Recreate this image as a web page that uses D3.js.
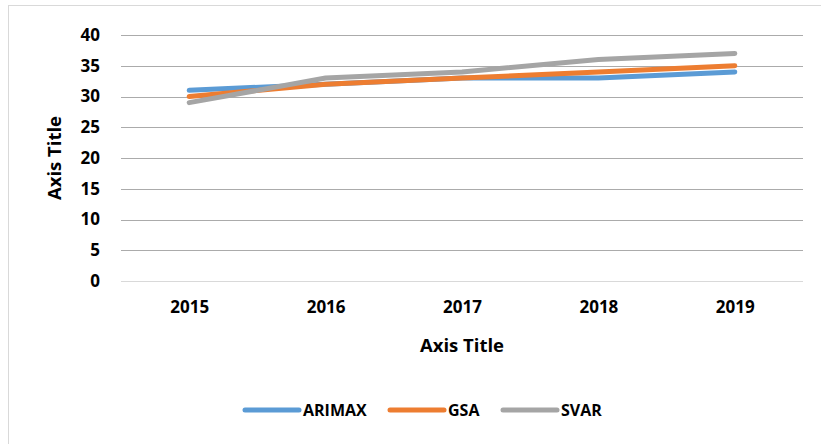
<!DOCTYPE html>
<html lang="en">
<head>
    <title>Forecast comparison</title>
    <script src="https://d3js.org/d3.v7.min.js"></script>
    <style>
        body { margin: 0; background: #fff; }
        text { font-family: "Open Sans", sans-serif; font-weight: bold; fill: #000; }
    </style>
</head>
<body>
<script>
    // Data
    const years   = ["2015", "2016", "2017", "2018", "2019"];
    const arimax  = [31, 32, 33, 33, 34];
    const gsa     = [30, 32, 33, 34, 35];
    const svar    = [29, 33, 34, 36, 37];
    const yTicks  = [0, 5, 10, 15, 20, 25, 30, 35, 40];
    const seriesNames  = ["ARIMAX", "GSA", "SVAR"];
    const seriesColors = ["#5B9BD5", "#ED7D31", "#A5A5A5"];

    const series = [arimax, gsa, svar].map((vals, i) => ({
        name: seriesNames[i],
        color: seriesColors[i],
        values: vals.map((v, j) => ({ year: years[j], value: v }))
    }));

    // Dimensions
    const width = 821, height = 444;
    const plotL = 121, plotR = 803, plotT = 35, plotB = 281;

    const svg = d3.select("body").append("svg")
        .attr("width", width)
        .attr("height", height);

    // chart frame (only top and left edges fall inside the picture)
    svg.append("rect")
        .attr("x", 8.5).attr("y", 5.5)
        .attr("width", 830).attr("height", 460)
        .attr("fill", "none")
        .attr("stroke", "#D9D9D9");

    const x = d3.scalePoint().domain(years).range([plotL, plotR]).padding(0.5);
    const y = d3.scaleLinear().domain([0, 40]).range([plotB, plotT]);

    // gridlines
    svg.append("g")
        .selectAll("line")
        .data(yTicks)
        .join("line")
        .attr("x1", plotL).attr("x2", plotR)
        .attr("y1", d => Math.round(y(d)) + 0.5)
        .attr("y2", d => Math.round(y(d)) + 0.5)
        .attr("stroke", d => d === 0 ? "#D9D9D9" : "#ABABAB")
        .attr("stroke-width", 1);

    // y axis labels
    const yAxis = svg.append("g")
        .attr("transform", `translate(${plotL - 21},0)`)
        .call(d3.axisLeft(y).tickValues(yTicks).tickSize(0).tickPadding(0));
    yAxis.select(".domain").remove();
    yAxis.selectAll("text")
        .attr("font-size", 17)
        .attr("font-family", "Open Sans")
        .attr("font-weight", "bold")
        .attr("fill", "#000");

    // x axis labels
    const xAxis = svg.append("g")
        .attr("transform", `translate(0,${plotB + 20})`)
        .call(d3.axisBottom(x).tickSize(0).tickPadding(0));
    xAxis.select(".domain").remove();
    xAxis.selectAll("text")
        .attr("font-size", 17)
        .attr("font-family", "Open Sans")
        .attr("font-weight", "bold")
        .attr("fill", "#000");

    // axis titles
    svg.append("text")
        .attr("x", (plotL + plotR) / 2)
        .attr("y", 352)
        .attr("text-anchor", "middle")
        .attr("font-size", 18.5)
        .text("Axis Title");

    svg.append("text")
        .attr("transform", `translate(61,${(plotT + plotB) / 2}) rotate(-90)`)
        .attr("text-anchor", "middle")
        .attr("font-size", 18.5)
        .text("Axis Title");

    // lines
    const line = d3.line()
        .x(d => x(d.year))
        .y(d => y(d.value));

    svg.append("g")
        .selectAll("path")
        .data(series)
        .join("path")
        .attr("fill", "none")
        .attr("stroke", d => d.color)
        .attr("stroke-width", 5)
        .attr("stroke-linecap", "round")
        .attr("stroke-linejoin", "round")
        .attr("d", d => line(d.values));

    // legend
    const legendX = [245, 390, 503];
    const legend = svg.append("g")
        .selectAll("g")
        .data(series)
        .join("g")
        .attr("transform", (d, i) => `translate(${legendX[i]},410)`);

    legend.append("line")
        .attr("x1", 0).attr("x2", 54)
        .attr("y1", 0).attr("y2", 0)
        .attr("stroke", d => d.color)
        .attr("stroke-width", 5)
        .attr("stroke-linecap", "round");

    legend.append("text")
        .attr("x", 58)
        .attr("y", 0)
        .attr("dy", "0.35em")
        .attr("font-size", 16)
        .text(d => d.name);
</script>
</body>
</html>
